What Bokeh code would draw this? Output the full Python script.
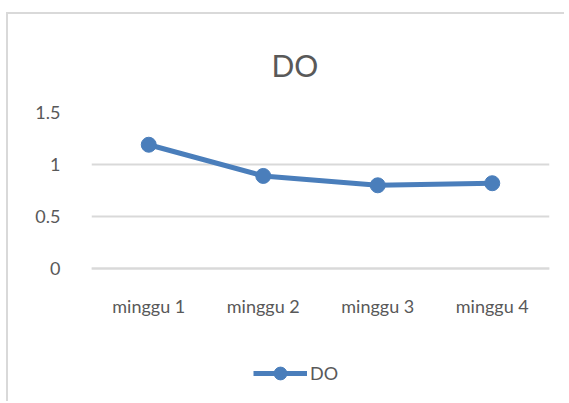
from bokeh.plotting import figure
from bokeh.models import Legend, LegendItem, FixedTicker, Title
from bokeh.embed import file_html
from bokeh.resources import INLINE

categories = ["minggu 1", "minggu 2", "minggu 3", "minggu 4"]
do_values = [1.19, 0.89, 0.80, 0.82]
y_ticks = [0, 0.5, 1, 1.5]
series_name = "DO"
title_text = "DO"

blue = "#4a7ebb"
grey_text = "#595959"
grid_color = "#d9d9d9"
font = "Lato"

# y range extends below 0 so that the area under the axis (labels, legend) lies inside the frame
p = figure(
    x_range=categories, y_range=(-1.25, 1.5),
    width=558, height=389,
    output_backend="svg", toolbar_location=None,
    min_border_left=83, min_border_right=17,
    min_border_top=98, min_border_bottom=5,
    background_fill_color="white", border_fill_color="white",
)
p.outline_line_color = None
p.x_range.range_padding = 0
p.styles = {"border-left": "2px solid #d9d9d9", "border-top": "2px solid #d9d9d9",
            "margin-left": "6px", "margin-top": "12px"}

p.title = Title(text=title_text, align="left", text_font=font,
                text_font_size="30px", text_color=grey_text,
                text_font_style="normal", standoff=60, offset=180)

r_line = p.line(categories, do_values, line_color=blue, line_width=5)
r_pts = p.scatter(categories, do_values, size=15, fill_color=blue, line_color=blue)

# axes
p.yaxis.ticker = FixedTicker(ticks=y_ticks)
p.yaxis.axis_line_color = None
p.yaxis.major_tick_line_color = None
p.yaxis.minor_tick_line_color = None
p.yaxis.major_label_text_font = font
p.yaxis.major_label_text_font_size = "18px"
p.yaxis.major_label_text_color = grey_text
p.yaxis.major_label_standoff = 25

p.xaxis.fixed_location = 0
p.xaxis.axis_line_color = grid_color
p.xaxis.axis_line_width = 2
p.xaxis.major_tick_line_color = None
p.xaxis.minor_tick_line_color = None
p.xaxis.major_label_text_font = font
p.xaxis.major_label_text_font_size = "18px"
p.xaxis.major_label_text_color = grey_text
p.xaxis.major_label_standoff = 20

p.xgrid.grid_line_color = None
p.ygrid.ticker = FixedTicker(ticks=y_ticks)
p.ygrid.grid_line_color = grid_color
p.ygrid.grid_line_width = 2

legend = Legend(items=[LegendItem(label=series_name, renderers=[r_line, r_pts])],
                orientation="horizontal", location=(162, 9),
                border_line_color=None, background_fill_alpha=0,
                label_text_font=font, label_text_font_size="18px",
                label_text_color=grey_text, glyph_width=54, glyph_height=32,
                label_standoff=3, margin=0, padding=0)
p.add_layout(legend, "center")

open("out.html", "w").write(file_html(p, INLINE))
